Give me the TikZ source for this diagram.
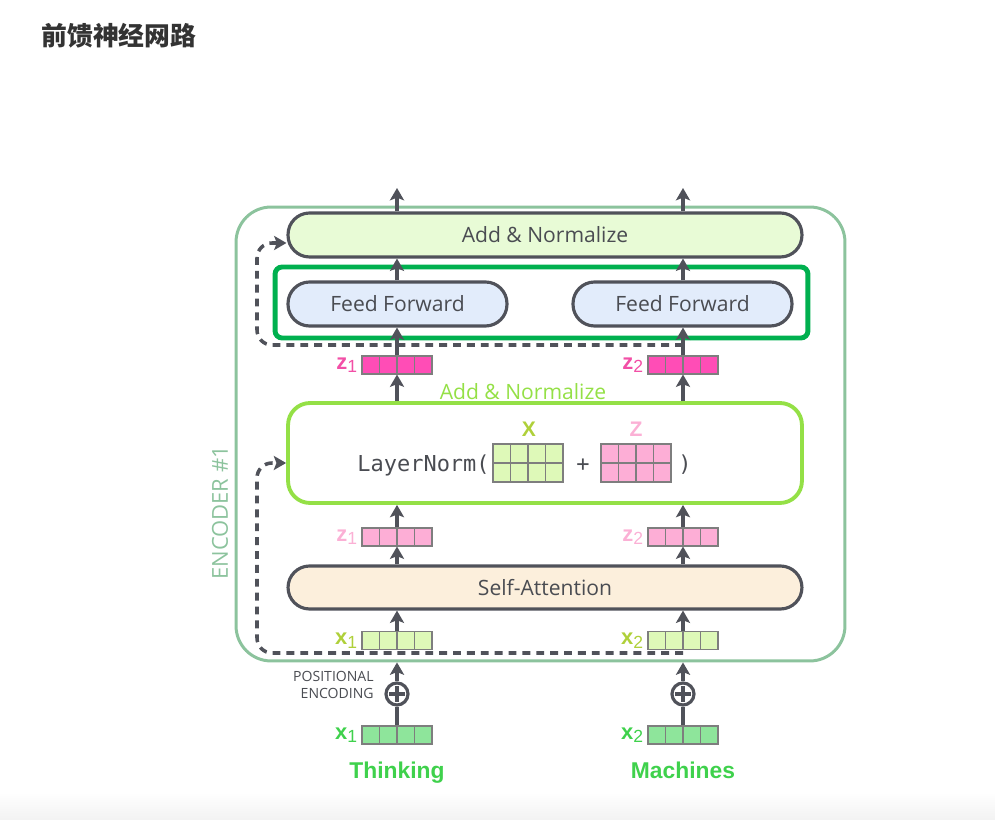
\documentclass[tikz,border=0pt]{standalone}
\usepackage{fontspec}
\setmainfont{Open Sans}
\setmonofont{DejaVu Sans Mono}
\newfontfamily\cjk{Noto Sans CJK SC}
\newfontfamily\lblfont{Liberation Sans}
\usetikzlibrary{calc, positioning, arrows.meta}

\definecolor{darkline}{HTML}{50525A}
\definecolor{textgrey}{HTML}{4A4C52}
\definecolor{encgreen}{HTML}{8CC39D}
\definecolor{hlgreen}{HTML}{00B04F}
\definecolor{lngreen}{HTML}{94E046}
\definecolor{anfill}{HTML}{E8FBD6}
\definecolor{fffill}{HTML}{E2ECFB}
\definecolor{safill}{HTML}{FCEFDC}
\definecolor{zdark}{HTML}{FF4DB6}
\definecolor{zdarklbl}{HTML}{F24FA6}
\definecolor{zlight}{HTML}{FDAED6}
\definecolor{zlightlbl}{HTML}{FBB0D5}
\definecolor{xlight}{HTML}{DEF9B8}
\definecolor{xlightlbl}{HTML}{AFD03A}
\definecolor{xgreen}{HTML}{8EE59B}
\definecolor{xgreenlbl}{HTML}{3FD14C}
\definecolor{cellline}{HTML}{7E7E7E}

\begin{document}
\begin{tikzpicture}[x=0.02cm, y=-0.02cm,
    >={Stealth[length=7pt,width=8pt,inset=1.5pt]},
    flow/.style={->, draw=darkline, line width=2pt},
    resid/.style={->, draw=darkline, line width=2pt, dash pattern=on 4.5pt off 3.4pt},
    box/.style={draw=darkline, line width=1.8pt, rounded corners=0.43cm, minimum height=0.88cm,
        inner sep=0pt, text=textgrey, font=\fontsize{12}{14}\selectfont},
    vec/.style={draw=cellline, line width=0.6pt, fill=#1, minimum width=1.4cm, minimum height=0.36cm,
        inner sep=0pt, path picture={
            \foreach \k in {1,2,3}
                \draw[cellline, line width=0.6pt]
                    ($(path picture bounding box.south west)!\k/4!(path picture bounding box.south east)$) --
                    ($(path picture bounding box.north west)!\k/4!(path picture bounding box.north east)$);
        }},
    mat/.style={vec=#1, minimum height=0.76cm, path picture={
            \foreach \k in {1,2,3}
                \draw[cellline, line width=0.6pt]
                    ($(path picture bounding box.south west)!\k/4!(path picture bounding box.south east)$) --
                    ($(path picture bounding box.north west)!\k/4!(path picture bounding box.north east)$);
            \draw[cellline, line width=0.6pt] (path picture bounding box.west) -- (path picture bounding box.east);
        }},
    vlbl/.style={text=#1, font=\lblfont\fontsize{12.5}{14}\selectfont, inner sep=0pt},
    plus/.style={circle, draw=darkline, line width=1.8pt, minimum size=0.44cm, inner sep=0pt,
        path picture={
            \draw[darkline, line width=1.8pt] ($(path picture bounding box.west)!0.15!(path picture bounding box.east)$) -- ($(path picture bounding box.west)!0.85!(path picture bounding box.east)$);
            \draw[darkline, line width=1.8pt] ($(path picture bounding box.north)!0.15!(path picture bounding box.south)$) -- ($(path picture bounding box.north)!0.85!(path picture bounding box.south)$);
        }}]

    % khung ảnh
    \useasboundingbox (0,0) rectangle (995,820);
    \shade[top color=white, bottom color=black!5] (0,792) rectangle (995,820);

    % cột trái / phải
    \def\colL{397}
    \def\colR{683}

    % tiêu đề
    \node[anchor=west, font=\cjk\bfseries\fontsize{14.7}{16}\selectfont, text=black!80, inner sep=0pt]
        (title) at (41,36) {前馈神经网路};

    % --- khung ENCODER ---
    \node[draw=encgreen, line width=1.7pt, rounded corners=0.7cm, minimum width=12.18cm,
        minimum height=9.08cm, inner sep=0pt] (enc) at (540.5,434) {};
    \node[rotate=90, text=encgreen, font=\fontsize{12.5}{14}\selectfont, inner sep=0pt]
        (enclbl) at (220,513) {ENCODER \#1};

    % --- các khối ---
    \node[box, fill=anfill, minimum width=10.28cm] (an) at (545,235) {Add \& Normalize};
    \node[box, fill=fffill, minimum width=4.38cm] (ffL) at (397.5,304) {Feed Forward};
    \node[box, fill=fffill, minimum width=4.38cm] (ffR) at (682.5,304) {Feed Forward};
    \node[draw=hlgreen, line width=2.8pt, rounded corners=4pt, minimum width=10.66cm,
        minimum height=1.42cm, inner sep=0pt] (hl) at (541.5,302.5) {};

    \node[vec=zdark] (zAL) at (\colL,365) {};
    \node[vec=zdark] (zAR) at (\colR,365) {};
    \node[vlbl=zdarklbl, left=0.08cm of zAL] {\textbf{z}\raisebox{-0.3ex}{\fontsize{10}{10}\selectfont 1}};
    \node[vlbl=zdarklbl, left=0.08cm of zAR] {\textbf{z}\raisebox{-0.3ex}{\fontsize{10}{10}\selectfont 2}};

    \node[text=lngreen, font=\fontsize{12}{14}\selectfont, inner sep=0pt] (lnlbl) at (523,392) {Add \& Normalize};
    \node[draw=lngreen, line width=2.2pt, rounded corners=0.44cm, minimum width=10.28cm,
        minimum height=2cm, inner sep=0pt] (ln) at (545,453) {};
    \node[anchor=east, text=textgrey, font=\ttfamily\fontsize{12.5}{14}\selectfont, inner sep=0pt]
        (lntxt) at (490,465) {LayerNorm(};
    \node[mat=xlight] (mx) at (528,463) {};
    \node[mat=zlight] (mz) at (636,463) {};
    \node[text=xlightlbl, font=\lblfont\bfseries\fontsize{12}{14}\selectfont, inner sep=0pt] at (529,429) {X};
    \node[text=zlightlbl, font=\lblfont\bfseries\fontsize{12}{14}\selectfont, inner sep=0pt] at (636,429) {Z};
    \node[text=textgrey, font=\ttfamily\fontsize{12.5}{14}\selectfont, inner sep=0pt] at (583,465) {+};
    \node[text=textgrey, font=\ttfamily\fontsize{12.5}{14}\selectfont, inner sep=0pt] (lnend) at (685,465) {)};

    \node[vec=zlight] (zBL) at (\colL,537) {};
    \node[vec=zlight] (zBR) at (\colR,537) {};
    \node[vlbl=zlightlbl, left=0.08cm of zBL] {\textbf{z}\raisebox{-0.3ex}{\fontsize{10}{10}\selectfont 1}};
    \node[vlbl=zlightlbl, left=0.08cm of zBR] {\textbf{z}\raisebox{-0.3ex}{\fontsize{10}{10}\selectfont 2}};

    \node[box, fill=safill, minimum width=10.28cm, minimum height=0.86cm] (sa) at (545,587.5) {Self-Attention};

    \node[vec=xlight] (xAL) at (\colL,640.5) {};
    \node[vec=xlight] (xAR) at (\colR,640.5) {};
    \node[vlbl=xlightlbl, left=0.08cm of xAL] {\textbf{x}\raisebox{-0.3ex}{\fontsize{10}{10}\selectfont 1}};
    \node[vlbl=xlightlbl, left=0.08cm of xAR] {\textbf{x}\raisebox{-0.3ex}{\fontsize{10}{10}\selectfont 2}};

    % --- positional encoding & đầu vào ---
    \node[plus] (peL) at (\colL,694) {};
    \node[plus] (peR) at (\colR,694) {};
    \node[anchor=east, align=right, text=textgrey, font=\fontsize{8}{9.5}\selectfont, inner sep=0pt]
        (pelbl) at (374,685) {POSITIONAL\\ENCODING};

    \node[vec=xgreen] (xBL) at (\colL,735) {};
    \node[vec=xgreen] (xBR) at (\colR,735) {};
    \node[vlbl=xgreenlbl, left=0.08cm of xBL] {\textbf{x}\raisebox{-0.3ex}{\fontsize{10}{10}\selectfont 1}};
    \node[vlbl=xgreenlbl, left=0.08cm of xBR] {\textbf{x}\raisebox{-0.3ex}{\fontsize{10}{10}\selectfont 2}};
    \node[anchor=base, text=xgreenlbl, font=\lblfont\bfseries\fontsize{13}{15}\selectfont] (w1) at (\colL,779) {Thinking};
    \node[anchor=base, text=xgreenlbl, font=\lblfont\bfseries\fontsize{13}{15}\selectfont] (w2) at (\colR,779) {Machines};

    % đầu ra
    \coordinate (outL) at (\colL,188);
    \coordinate (outR) at (\colR,188);

    % --- mũi tên ---
    \foreach \s in {L,R} {
        \draw[darkline, line width=2pt] (xB\s.north) -- (pe\s.south);
        \draw[flow] (pe\s.north) -- (pe\s.north |- enc.south);
        \draw[flow] (xA\s.north) -- (xA\s.north |- sa.south);
        \draw[flow] (xA\s.north |- sa.north) -- (zB\s.south);
        \draw[flow] (zB\s.north) -- (zB\s.north |- ln.south);
        \draw[flow] (zB\s.north |- ln.north) -- (zA\s.south);
        \draw[flow] (zA\s.north) -- (zA\s.north |- ffL.south);
        \draw[flow] (zA\s.north |- ffL.north) -- (zA\s.north |- an.south);
        \draw[flow] (zA\s.north |- an.north) -- (out\s);
    }

    % nhánh tắt (residual)
    \draw[resid, rounded corners=0.3cm] (\colR,653) -- (257,653) -- (257,463) -- ($(ln.west)+(0,10)$);
    \draw[resid, rounded corners=0.3cm] (\colR,345) -- (257,345) -- (257,243) -- ($(an.west)+(0,8)$);

\end{tikzpicture}
\end{document}
